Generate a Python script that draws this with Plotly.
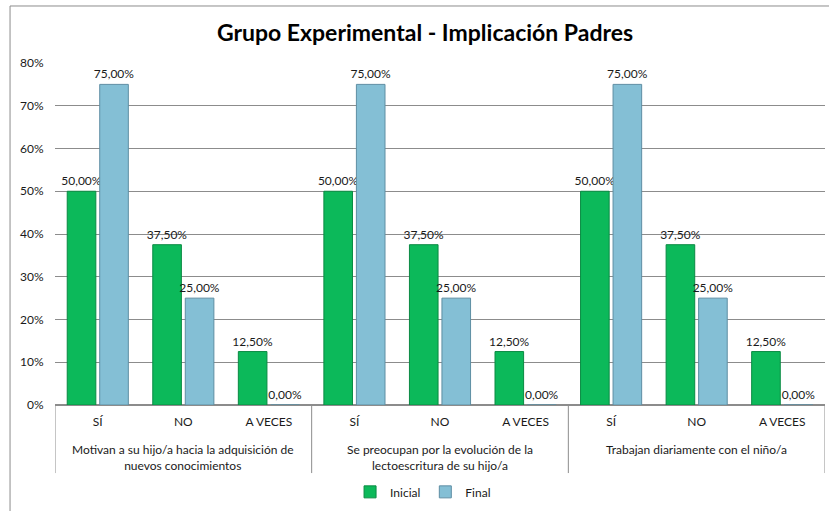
import plotly.graph_objects as go

# ---- data ----
groups = [
    "Motivan a su hijo/a hacia la adquisición de<br>nuevos conocimientos",
    "Se preocupan por la evolución de la<br>lectoescritura de su hijo/a",
    "Trabajan diariamente con el niño/a",
]
answers = ["SÍ", "NO", "A VECES"]
inicial = [50.0, 37.5, 12.5, 50.0, 37.5, 12.5, 50.0, 37.5, 12.5]
final = [75.0, 25.0, 0.0, 75.0, 25.0, 0.0, 75.0, 25.0, 0.0]
y_ticks = [0, 10, 20, 30, 40, 50, 60, 70, 80]

FONT = "Lato"
TXT = "#1a1a1a"
GRID = "#8c8c8c"

keys = [f"{g}|{a}" for g in range(len(groups)) for a in answers]
ticktext = [a for g in groups for a in answers]


def fmt(v):
    return f"{v:.2f}%".replace(".", ",")


fig = go.Figure()
fig.add_trace(go.Bar(
    name="Inicial", x=keys, y=inicial,
    text=[fmt(v) for v in inicial], textposition="outside", constraintext="none",
    marker=dict(color="#0cb95a", line=dict(color="#0a8a43", width=1)),
    textfont=dict(family=FONT, size=12, color=TXT), cliponaxis=False,
))
fig.add_trace(go.Bar(
    name="Final", x=keys, y=final,
    text=[fmt(v) for v in final], textposition="outside", constraintext="none",
    marker=dict(color="#84bfd5", line=dict(color="#5e8ea3", width=1)),
    textfont=dict(family=FONT, size=12, color=TXT), cliponaxis=False,
))

shapes = []
n = len(answers)
for i in range(len(groups) + 1):
    shapes.append(dict(type="line", xref="x", yref="paper",
                       x0=i * n - 0.5, x1=i * n - 0.5, y0=0, y1=-0.199,
                       line=dict(color=GRID, width=1)))
# outer chart border (left and top visible)
shapes.append(dict(type="line", xref="paper", yref="paper",
                   x0=-0.0584, x1=-0.0584, y0=1.1667, y1=-0.4,
                   line=dict(color=GRID, width=1)))
shapes.append(dict(type="line", xref="paper", yref="paper",
                   x0=-0.0584, x1=1.01, y0=1.1667, y1=1.1667,
                   line=dict(color=GRID, width=1)))

annotations = []
for i, g in enumerate(groups):
    annotations.append(dict(text=g, xref="x", yref="paper", x=i * n + 1, y=-0.103,
                            xanchor="center", yanchor="top", showarrow=False,
                            font=dict(family=FONT, size=12, color=TXT)))

fig.update_layout(
    width=829, height=511,
    margin=dict(l=55, r=4, t=63, b=106, autoexpand=False),
    paper_bgcolor="white", plot_bgcolor="white",
    barmode="group", bargap=0.24, bargroupgap=0.12,
    title=dict(text="<b>Grupo Experimental - Implicación Padres</b>",
               x=425 / 829, xanchor="center", y=1 - 33 / 511, yanchor="middle",
               font=dict(family=FONT, size=23, color="#000000")),
    xaxis=dict(type="category", tickvals=keys, ticktext=ticktext,
               range=[-0.5, len(keys) - 0.5], automargin=False,
               showgrid=False, showline=True, linecolor=GRID, linewidth=1,
               ticks="outside", ticklen=6, tickcolor="rgba(0,0,0,0)",
               tickfont=dict(family=FONT, size=12, color=TXT)),
    yaxis=dict(range=[0, 80], tickmode="array", tickvals=y_ticks,
               ticktext=[f"{v}%" for v in y_ticks], automargin=False,
               showgrid=True, gridcolor=GRID, gridwidth=1,
               zeroline=True, zerolinecolor=GRID,
               ticks="outside", ticklen=8, tickcolor="rgba(0,0,0,0)",
               tickfont=dict(family=FONT, size=12, color=TXT)),
    legend=dict(orientation="h", x=0.478, xanchor="center",
                y=-0.254, yanchor="middle",
                font=dict(family=FONT, size=12, color=TXT),
                itemwidth=30, traceorder="normal"),
    shapes=shapes, annotations=annotations,
    showlegend=True,
)

fig.write_html(
    "out.html",
    config={"displayModeBar": False},
    post_script="document.body.style.margin='0';document.body.style.overflow='hidden';",
)
